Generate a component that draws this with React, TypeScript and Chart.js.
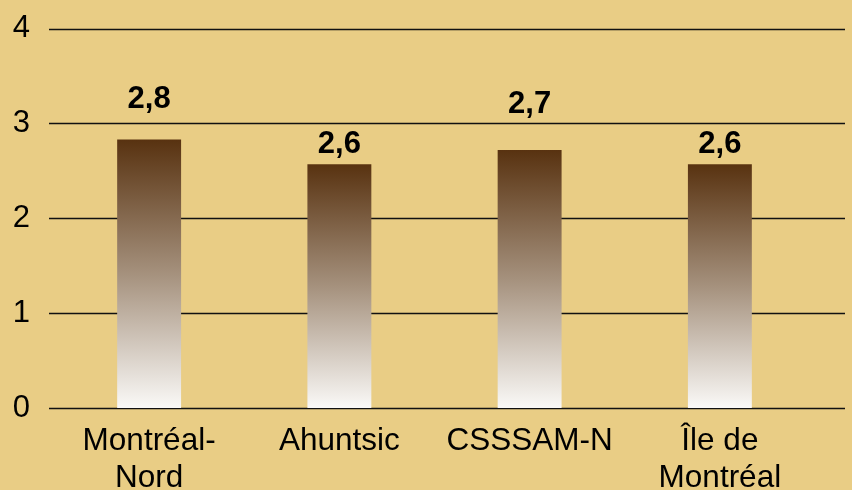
import React, { useEffect, useRef } from "react";
import { Chart, registerables } from "chart.js";

Chart.register(...registerables);

const categories: (string | string[])[] = [["Montréal-", "Nord"], "Ahuntsic", "CSSSAM-N", ["Île de", "Montréal"]];
const values: number[] = [2.83, 2.57, 2.72, 2.57];
const yTicks: number[] = [0, 1, 2, 3, 4];
const labelGaps: number[] = [32, 11, 37, 11];

const BG = "rgb(233,205,133)";
const FONT = "'Liberation Sans', Arial, Helvetica, sans-serif";

export default function App() {
  const ref = useRef<HTMLCanvasElement | null>(null);

  useEffect(() => {
    document.body.style.margin = "0";
    const canvas = ref.current!;
    const gridPlugin = {
      id: "extGrid",
      beforeDatasetsDraw(chart: any) {
        const { ctx, chartArea, scales } = chart;
        ctx.save();
        ctx.strokeStyle = "#111";
        ctx.lineWidth = 1.4;
        yTicks.forEach((t) => {
          const y = Math.round(scales.y.getPixelForValue(t)) + 0.5;
          ctx.beginPath();
          ctx.moveTo(chartArea.left - 5, y);
          ctx.lineTo(chartArea.right + 30, y);
          ctx.stroke();
        });
        ctx.restore();
      },
      afterDatasetsDraw(chart: any) {
        const { ctx } = chart;
        const meta = chart.getDatasetMeta(0);
        ctx.save();
        ctx.fillStyle = "#000";
        ctx.font = `bold 31px ${FONT}`;
        ctx.textAlign = "center";
        ctx.textBaseline = "alphabetic";
        meta.data.forEach((bar: any, i: number) => {
          const txt = values[i].toFixed(1).replace(".", ",");
          ctx.fillText(txt, bar.x, bar.y - labelGaps[i]);
        });
        ctx.restore();
      },
    };

    const chart = new Chart(canvas, {
      type: "bar",
      data: {
        labels: categories,
        datasets: [
          {
            data: values,
            backgroundColor: (context: any) => {
              const c = context.chart;
              const ys = c.scales && c.scales.y;
              if (!ys || context.dataIndex === undefined || !c.chartArea) return "rgb(120,90,60)";
              const top = ys.getPixelForValue(values[context.dataIndex]);
              const bottom = ys.getPixelForValue(0);
              if (!isFinite(top) || !isFinite(bottom) || top === bottom) return "rgb(120,90,60)";
              const g = c.ctx.createLinearGradient(0, top, 0, bottom);
              g.addColorStop(0, "rgb(88,50,16)");
              g.addColorStop(0.5, "rgb(165,145,125)");
              g.addColorStop(1, "rgb(250,249,247)");
              return g;
            },
            borderWidth: 0,
            barPercentage: 0.336,
            categoryPercentage: 1,
          },
        ],
      },
      options: {
        animation: false,
        responsive: false,
        maintainAspectRatio: false,
        layout: { padding: { left: 0, right: 37, top: 28.5, bottom: 0 } },
        plugins: { legend: { display: false }, tooltip: { enabled: false } },
        scales: {
          y: {
            min: 0,
            max: 4,
            afterFit: (s: any) => {
              s.width = 54;
              s.paddingTop = 0;
              s.paddingBottom = 0;
            },
            afterBuildTicks: (s: any) => {
              s.ticks = yTicks.map((v) => ({ value: v }));
            },
            grid: { display: false, drawTicks: false },
            border: { display: false },
            ticks: {
              padding: 24,
              color: "#000",
              font: { family: FONT, size: 31 },
            },
          },
          x: {
            afterFit: (s: any) => {
              s.height = 82;
              s.paddingLeft = 0;
              s.paddingRight = 0;
            },
            grid: { display: false, drawTicks: false },
            border: { display: false },
            ticks: {
              padding: 14,
              color: "#000",
              maxRotation: 0,
              autoSkip: false,
              font: { family: FONT, size: 31.5, lineHeight: 1.2 },
            },
          },
        },
      },
      plugins: [gridPlugin],
    });
    chart.update();
    return () => chart.destroy();
  }, []);

  return (
    <div style={{ position: "absolute", left: 0, top: 0, width: 852, height: 490, background: BG }}>
      <canvas ref={ref} width={852} height={490} style={{ display: "block" }} />
    </div>
  );
}
